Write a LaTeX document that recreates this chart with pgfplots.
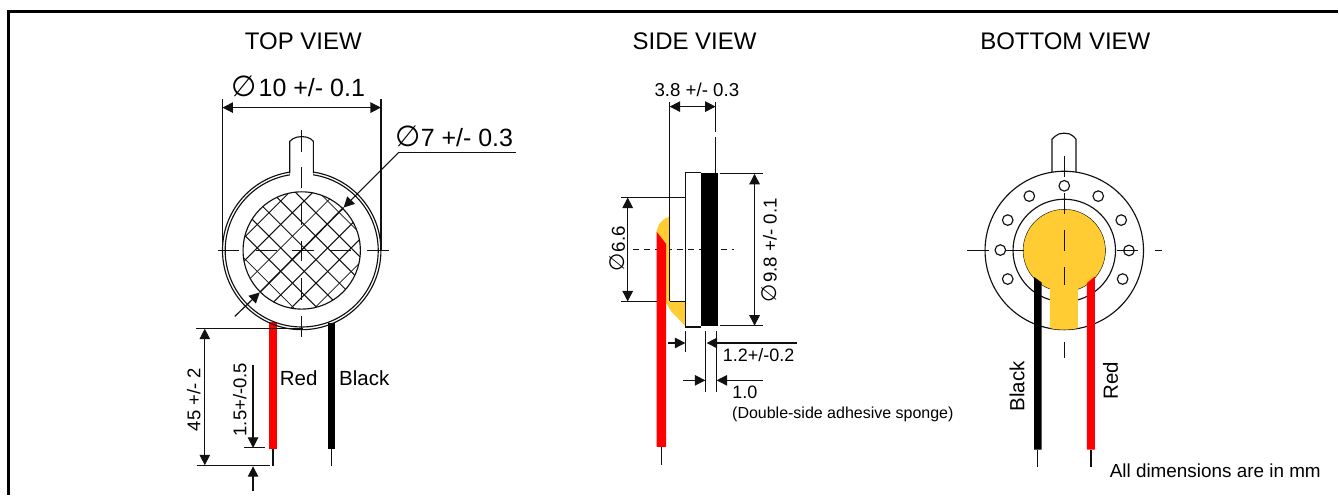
\documentclass[border=0pt]{standalone}
\usepackage{fontspec}
\setmainfont{Liberation Sans}
\newfontfamily\djv{DejaVu Sans}
\usepackage{pgfplots}
\pgfplotsset{compat=1.18}
\usetikzlibrary{arrows.meta}
\definecolor{yel}{HTML}{FFCC33}
\definecolor{ink}{HTML}{111111}
\newcommand{\fs}[1]{\fontsize{#1}{#1}\selectfont}
\newcommand{\dia}[1]{{\djv\fs{#1}∅}}
\tikzset{
 tipL/.tip={Triangle[length=10.5pt,width=10.5pt]},
}
\pgfplotsset{
 ln/.style={ink,line width=1.15pt,no markers},
 thin mesh/.style={ink,line width=0.65pt,no markers},
 thick mesh/.style={ink,line width=1.05pt,no markers},
 cl/.style={ink,line width=1.2pt,no markers},
 ring/.style={only marks,mark=o,mark size=#1,mark options={ink,line width=1.15pt,solid}},
}
\newcommand{\seg}[5][ln]{\addplot[#1] coordinates {(#2,#3)(#4,#5)};}
\newcommand{\arr}[5]{\addplot[ln,-{tipL}] coordinates {(#2,#3)(#4,#5)};}
\newcommand{\dbl}[4]{\addplot[ln,{tipL}-{tipL}] coordinates {(#1,#2)(#3,#4)};}
\newcommand{\poly}[2]{\addplot[fill=#1,draw=none,no markers] coordinates {#2};}
\begin{document}
\begin{tikzpicture}
\begin{axis}[x=1pt,y=1pt,y dir=reverse,xmin=0,xmax=1339,ymin=0,ymax=495,hide axis,clip=false,clip mode=individual]
% frame
\addplot[black,line width=2.6pt,no markers] coordinates {(8.8,495)(8.8,11.3)(1339,11.3)};
\addplot[draw=none,no markers] coordinates {(0,0)(1339,495)};

%%% TOP VIEW
\poly{red}{(269.3,322)(277,322)(277,449)(269.3,449)}
\poly{black}{(328,323)(335.7,323)(335.7,449)(328,449)}
\seg{273.3}{449}{273.3}{466.7}
\seg{332}{449}{332}{466.7}
\addplot[ring=79.3] coordinates {(302,250.7)};
\addplot[ring=76.6] coordinates {(302,250.7)};
\addplot[ring=58.7] coordinates {(302,250.7)};
\poly{white}{(290.7,166)(313.2,166)(313.2,177.5)(290.7,177.5)}
\addplot[ln] coordinates {(290,173.5)(290,141.5)(293,139)(297,137.3)(302,136.7)(307,137.3)(311,139)(313.7,141.5)(313.7,173.5)};
% mesh
\seg[thick mesh]{353.55}{222.65}{273.95}{302.25}
\seg[thin mesh]{330.05}{199.15}{250.45}{278.75}
\seg[thick mesh]{359.7}{240}{291.3}{308.4}
\seg[thick mesh]{312.7}{193}{244.3}{261.4}
\seg[thin mesh]{359.15}{264.05}{315.35}{307.85}
\seg[thick mesh]{288.65}{193.55}{244.85}{237.35}
\seg[thick mesh]{263.1}{206.8}{345.9}{289.6}
\seg[thick mesh]{277.25}{197.45}{355.25}{275.45}
\seg[thick mesh]{295.6}{192.3}{360.4}{257.1}
\seg[thin mesh]{322.45}{195.65}{357.05}{230.25}
\seg[thick mesh]{252.25}{219.45}{333.25}{300.45}
\seg[thick mesh]{245.2}{235.9}{316.8}{307.5}
\seg[thin mesh]{243.75}{257.95}{294.75}{308.95}
% centre lines
\seg[cl]{218.3}{250.7}{239.3}{250.7}
\seg[cl]{256.7}{250.7}{277.3}{250.7}
\seg[cl]{292.7}{250.7}{314}{250.7}
\seg[cl]{330}{250.7}{351.7}{250.7}
\seg[cl]{367.3}{250.7}{389}{250.7}
\seg[cl]{302}{130}{302}{151.7}
\seg[cl]{302}{167.3}{302}{188.3}
\seg[cl]{302}{204}{302}{225}
\seg[cl]{302}{241.7}{302}{261.7}
\seg[cl]{302}{278.3}{302}{300}
\seg[cl]{302}{316.7}{302}{337.3}
% dimensions
\seg{222.7}{99}{222.7}{250.7}
\seg{381.3}{99}{381.3}{250.7}
\dbl{222.7}{107.7}{381.3}{107.7}
\seg{399.3}{152.3}{516.7}{152.3}
\arr{x}{399.3}{152.3}{344}{207.7}
\seg[ink,line width=1.5pt,no markers]{344}{207.7}{260}{292.7}
\arr{x}{235}{316.7}{260}{292.7}
\seg{196}{329}{303}{329}
\seg{196.7}{465.7}{270}{465.7}
\dbl{205}{329}{205}{465.7}
\arr{x}{253.3}{365}{253.3}{448.3}
\seg{244.3}{448.3}{265}{448.3}
\arr{x}{253.3}{491.7}{253.3}{466.7}
% texts
\node[anchor=base west,inner sep=0pt] at (245,49.5) {\fs{24}TOP VIEW};
\node[anchor=base west,inner sep=0pt] at (633,49.5) {\fs{24}SIDE VIEW};
\node[anchor=base west,inner sep=0pt] at (981,49.5) {\fs{24}BOTTOM VIEW};
\node[anchor=base west,inner sep=0pt] at (232,96.7) {\dia{29}\kern1.5pt\fs{25}10 +/- 0.1};
\node[anchor=base west,inner sep=0pt] at (395.7,147) {\dia{29}\fs{25}7 +/- 0.3};
\node[rotate=90,inner sep=0pt] at (194,400) {\fs{18.5}45 +/- 2};
\node[rotate=90,inner sep=0pt] at (240,400) {\fs{18.5}1.5+/-0.5};
\node[anchor=base west,inner sep=0pt] at (280,386) {\fs{20.5}Red};
\node[anchor=base west,inner sep=0pt] at (339.3,386) {\fs{20.5}Black};

%%% SIDE VIEW
\addplot[ink,line width=1.1pt,no markers,dash pattern=on 6pt off 5pt] coordinates {(633.3,250)(735,250)};
\poly{yel}{(670.7,216.7)(665,219)(660,224)(657.3,230.7)(657.3,233)(666.7,243.3)(666.7,303)(672,312)(685.7,326)(685.7,301.7)(670.7,301.7)}
\poly{red}{(657.3,232)(666.7,244)(666.7,447.3)(657.3,447.3)}
\seg{662.3}{447.3}{662.3}{465}
\poly{black}{(702,173.3)(718.3,173.3)(718.3,326.7)(702,326.7)}
\addplot[ln] coordinates {(702,172.7)(686,172.7)(686,327.3)(702,327.3)};
\seg{670.5}{102.3}{670.5}{301.7}
\seg{621.7}{197.7}{686}{197.7}
\seg{670.5}{301.7}{686}{301.7}
\seg{621.7}{301.7}{657.3}{301.7}
\seg{716.3}{102.3}{716.3}{132.3}
\seg{716.3}{137.3}{716.3}{172.7}
\dbl{670.3}{106.7}{716.3}{106.7}
\dbl{628.3}{197.7}{628.3}{301.7}
\seg{720.7}{174}{763.3}{174}
\seg{720.7}{326}{763.3}{326}
\dbl{755.3}{174}{755.3}{326}
\seg{686}{331.7}{686}{352.3}
\seg{706}{331.7}{706}{392.7}
\seg{717.3}{331.7}{717.3}{392.7}
\arr{x}{668.3}{343.3}{686}{343.3}
\arr{x}{797.3}{343.3}{707.3}{343.3}
\arr{x}{683.3}{380.7}{706}{380.7}
\arr{x}{763.3}{380.7}{717.3}{380.7}
\node[anchor=base west,inner sep=0pt] at (655,96.7) {\fs{18.7}3.8 +/- 0.3};
\node[rotate=90,inner sep=0pt] at (618,249) {\dia{21}\fs{18.7}\kern1pt 6.6};
\node[rotate=90,inner sep=0pt] at (770,250.5) {\dia{21}\fs{18.7}\kern1pt 9.8 +/- 0.1};
\node[anchor=base west,inner sep=0pt] at (723.3,361.7) {\fs{18}1.2+/-0.2};
\node[anchor=base west,inner sep=0pt] at (733,399.3) {\fs{18}1.0};
\node[anchor=base west,inner sep=0pt] at (732.7,419) {\fs{16}(Double-side adhesive sponge)};

%%% BOTTOM VIEW
\addplot[ring=79.3] coordinates {(1065.3,250.7)};
\addplot[ring=51.3] coordinates {(1065.3,250.7)};
\addplot[ring=5.3] coordinates {(1065.3,186)(1030.3,196.3)(1099.3,196.3)(1008.7,220.3)(1122.3,220.3)(1001.3,250.3)(1130,250.7)(1008.7,279.3)(1123.7,279.3)};
\addplot[ln] coordinates {(1053,172.3)(1053,139.3)(1056,136.5)(1060,134)(1065.3,133.3)(1070.5,134)(1074.5,136.5)(1077,139.3)(1077,172.3)};
\addplot[only marks,mark=*,mark size=41.2,mark options={draw=none,fill=yel}] coordinates {(1065.3,250.7)};
\poly{yel}{(1051,280)(1079,280)(1079,328.4)(1072,329.7)(1065.3,330)(1058,329.7)(1051,328.4)}
\poly{black}{(1035,277.3)(1042.7,282.7)(1042.7,450)(1035,450)}
\poly{red}{(1096,276.7)(1088,283.3)(1088,450)(1096,450)}
\seg{1038.7}{450}{1038.7}{467.7}
\seg{1092}{450}{1092}{467.7}
\seg[cl]{968.3}{250.7}{990}{250.7}
\seg[cl]{1006.7}{250.7}{1025}{250.7}
\seg[cl]{1117.7}{250.7}{1139}{250.7}
\seg[cl]{1155.7}{250.7}{1163.3}{250.7}
\seg[cl]{1065.3}{155.7}{1065.3}{176.7}
\seg[cl]{1065.3}{193.3}{1065.3}{214}
\seg[cl]{1065.3}{230.7}{1065.3}{251.7}
\seg[cl]{1065.3}{267.7}{1065.3}{285.7}
\seg[cl]{1065.3}{342.3}{1065.3}{358.3}
\node[rotate=90,inner sep=0pt] at (1018,386.7) {\fs{20.5}Black};
\node[rotate=90,inner sep=0pt] at (1111.7,380.8) {\fs{20.5}Red};
\node[anchor=base west,inner sep=0pt] at (1110.7,478) {\fs{18.9}All dimensions are in mm};
\end{axis}
\end{tikzpicture}
\end{document}
